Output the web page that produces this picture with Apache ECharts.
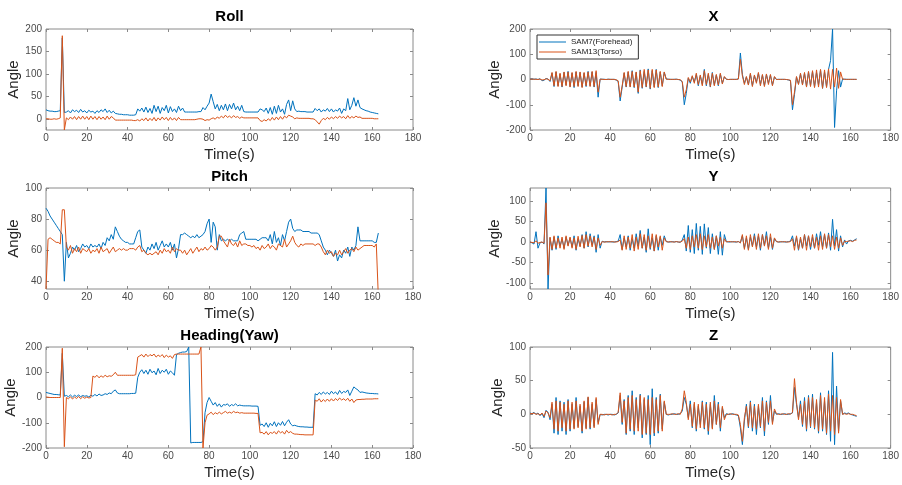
<!DOCTYPE html>
<html><head><meta charset="utf-8">
<script src="https://cdn.jsdelivr.net/npm/echarts@6/dist/echarts.min.js"></script>
<style>html,body{margin:0;padding:0;background:#fff}#c{width:902px;height:485px}</style>
</head><body><div id="c"></div>
<script>
// sample spacing of every series below (seconds), starting at t = 0
const timeStep = 1;
const xTickValues = [0,20,40,60,80,100,120,140,160,180];
const seriesNames = ['SAM7(Forehead)', 'SAM13(Torso)'];

// ---------- Roll ----------
const rollForehead = [
20,18,17,17,16,16,17,18,180,14,
15,18,13,20,16,19,14,21,15,18,
13,19,15,17,12,18,14,20,16,22,
14,19,13,17,12,11,10,10,9,9,
9,8,8,8,9,22,17,24,15,26,
14,23,12,30,16,28,12,25,18,30,
13,27,16,22,14,28,18,24,15,15,
15,15,15,15,15,16,16,25,20,28,
35,55,38,22,32,18,30,20,33,18,
32,22,35,20,28,18,30,16,15,15,
15,15,15,15,15,22,20,16,24,12,
25,10,28,12,30,15,22,10,32,42,
18,40,22,16,17,16,16,16,15,15,
15,15,23,18,22,15,20,17,23,16,
22,15,20,17,24,12,22,18,45,20,
30,47,28,42,25,22,20,18,17,15,
14,13,12,11];
const rollTorso = [
0,0,-1,-1,0,-1,0,2,185,-25,
2,-2,4,-1,5,-2,5,-1,6,-1,
5,-2,6,-1,5,-2,5,-1,4,-2,
6,-1,5,2,-3,-3,-3,-3,-3,-3,
-3,-3,-3,-4,-4,-2,-5,0,-4,2,
-5,1,-4,3,-5,2,-3,4,-2,3,
-4,3,-3,2,-4,3,-2,-2,-2,-2,
-2,-2,-2,-2,-1,0,0,-1,-4,-2,
-3,0,2,-1,4,1,6,2,8,3,
6,2,7,3,5,1,4,2,2,2,
2,2,2,2,2,-4,-6,-2,-5,0,
-4,3,-3,4,-2,5,-1,6,2,8,
6,4,0,2,1,1,1,1,1,1,
0,0,-2,-7,-12,-4,1,-2,3,-1,
4,0,5,1,6,2,5,0,7,1,
5,2,6,3,4,1,1,1,1,1,
1,0,0,0];

// ---------- Pitch ----------
const pitchForehead = [
87,85,82,80,78,76,74,72,70,40,
65,55,58,62,60,63,59,61,64,62,
63,61,64,62,63,62,64,61,65,63,
68,66,70,67,75,72,69,67,66,65,
65,64,64,64,68,72,73,62,60,58,
62,60,64,61,65,60,63,66,62,64,
62,65,60,64,55,61,70,70,71,70,
69,68,69,68,70,68,69,70,72,77,
80,65,78,75,60,70,66,67,66,67,
66,67,66,66,66,70,71,72,67,67,
67,67,67,67,66,67,68,68,68,66,
70,64,72,65,68,63,70,66,72,78,
80,74,72,73,73,73,72,72,72,72,
71,71,71,71,70,66,62,60,57,60,
58,56,60,53,57,55,60,58,62,56,
62,60,63,75,66,66,66,66,66,66,
66,65,65,71];
const pitchTorso = [
35,67,68,67,66,65,65,64,86,86,
62,60,63,58,61,59,62,58,61,60,
59,61,58,60,59,61,58,62,59,60,
61,58,60,62,59,60,61,60,61,60,
60,61,61,61,60,62,63,59,60,58,
57,58,57,58,59,57,60,58,61,59,
60,58,62,59,61,60,60,58,60,57,
59,61,58,60,62,59,61,60,62,60,
61,63,62,60,62,69,69,66,64,62,
67,64,63,65,62,66,63,64,64,63,
63,62,63,61,62,60,63,61,62,64,
61,63,62,60,64,63,62,67,62,64,
66,69,65,63,62,64,63,64,64,64,
64,64,63,64,64,62,59,57,60,58,
59,56,58,57,60,57,59,61,58,60,
61,59,62,60,61,62,63,63,63,63,
63,62,64,30];

// ---------- Heading (Yaw) ----------
const headingForehead = [
20,18,16,14,12,12,11,10,175,5,
8,3,10,2,9,4,10,3,8,5,
7,2,9,5,12,6,14,8,10,15,
12,18,15,25,30,18,15,15,15,15,
15,15,16,16,17,80,100,110,95,108,
92,112,98,105,90,115,95,108,100,112,
92,105,98,88,170,175,178,180,180,182,
200,-180,-178,-178,-178,-178,-178,-175,-60,-20,
0,-15,-30,-20,-35,-25,-38,-28,-30,-25,
-35,-28,-32,-25,-33,-30,-32,-33,-33,-33,
-33,-34,-34,-34,-35,-110,-105,-115,-100,-118,
-102,-112,-96,-115,-100,-110,-95,-112,-98,-88,
-105,-112,-110,-113,-115,-116,-116,-117,-117,-118,
-118,-118,15,10,20,12,22,14,20,12,
25,15,22,12,28,16,24,20,30,8,
25,42,35,30,20,22,20,18,17,16,
16,15,15,14];
const headingTorso = [
2,1,0,0,0,0,0,0,195,-195,
0,-5,3,-6,2,-4,4,-5,3,-3,
2,-2,0,85,80,88,78,86,80,88,
82,86,84,90,100,88,88,88,88,88,
88,88,88,88,90,160,165,170,160,172,
162,170,165,172,160,168,162,170,158,168,
160,165,155,170,172,172,172,172,172,172,
172,172,172,172,172,172,200,-200,-100,-70,
-65,-58,-68,-60,-65,-58,-65,-60,-55,-62,
-58,-62,-55,-60,-58,-62,-60,-62,-62,-62,
-62,-62,-62,-63,-63,-140,-138,-145,-135,-148,
-138,-142,-135,-145,-132,-140,-135,-145,-130,-140,
-135,-142,-145,-145,-146,-147,-147,-148,-148,-148,
-148,-148,-10,-15,-5,-18,-8,-16,-6,-15,
-5,-14,-4,-12,-2,-10,-5,-12,-3,-15,
-6,-20,-10,-8,-8,-7,-7,-6,-6,-6,
-6,-5,-5,-5];

// ---------- X ----------
const xForehead = [
2,3,1,2,0,3,-5,-3,4,2,
-8,25,-28,30,-25,22,-30,28,-22,32,
-28,25,-32,30,-25,28,-30,25,-28,32,
-25,30,-30,28,-70,2,1,1,0,1,
1,0,1,-2,-8,-85,-30,25,-30,30,
-28,35,-32,28,-55,38,-35,32,-30,42,
-38,35,-30,40,-32,30,-25,28,2,1,
1,0,1,1,0,-2,-10,-100,-55,5,
-15,12,-10,20,-25,15,-20,40,-25,20,
-30,28,-22,18,-25,22,-15,10,1,0,
0,1,0,1,2,105,20,-15,10,-20,
22,-25,15,-10,25,-20,18,-25,20,-15,
18,-22,10,0,1,0,1,0,0,-2,
-5,-120,-60,10,-18,22,-20,25,-28,30,
-25,32,-30,28,-22,38,-35,30,-30,40,
75,200,-190,-45,35,-30,2,1,1,0,
1,0,0,1];
const xTorso = [
1,2,1,1,0,2,-2,-1,3,1,
-5,28,-25,32,-28,25,-28,30,-25,30,
-30,28,-28,32,-28,30,-32,28,-25,30,
-28,32,-28,35,-50,1,1,0,0,1,
0,1,0,-1,-5,-70,-25,28,-28,32,
-30,32,-30,30,-50,35,-32,40,-28,38,
-35,40,-32,38,-30,32,-28,30,1,1,
0,1,0,1,0,-1,-8,-70,-40,8,
-10,15,-15,25,-20,18,-25,35,-20,25,
-28,25,-25,20,-22,25,-18,12,1,0,
1,0,1,0,2,80,15,-20,12,-22,
25,-28,18,-15,28,-25,20,-28,22,-20,
20,-25,12,0,0,1,0,1,0,-1,
-3,-100,-50,12,-20,25,-22,28,-30,32,
-28,35,-32,38,-30,40,-35,38,-32,42,
-38,40,-30,45,-35,30,1,1,0,1,
0,1,1,0];

// ---------- Y ----------
const yForehead = [
0,-2,-5,25,-15,-2,0,-5,131,-114,
10,-20,12,-18,15,-10,8,-15,12,-8,
10,-12,15,-20,8,-10,18,-15,25,-12,
20,-8,15,-25,18,-15,2,0,1,0,
1,0,0,1,2,18,-18,10,-12,15,
-20,8,-15,20,-10,28,-15,12,-25,32,
-18,10,-22,15,-20,12,-8,15,1,0,
0,1,0,1,0,-1,5,18,-22,40,
-25,30,-28,45,-20,38,-30,44,-15,35,
-28,20,-18,15,-30,25,-32,18,1,0,
0,1,0,0,1,-2,15,-15,10,-18,
12,-10,20,-12,15,-20,18,-8,25,-15,
12,-18,8,1,0,0,1,0,0,1,
2,15,-10,12,-20,8,-15,18,-10,15,
-18,12,-15,20,-8,25,-12,18,-15,22,
-20,55,-10,30,-22,15,-12,5,-5,3,
4,2,5,8];
const yTorso = [
0,-1,-2,3,-3,-1,0,-3,95,-80,
12,-18,15,-15,10,-15,12,-18,15,-10,
12,-15,10,-18,14,-12,16,-15,18,-10,
15,-12,12,-18,10,-8,1,0,0,1,
0,1,0,0,1,5,-20,15,-18,12,
-15,18,-22,12,-18,20,-15,18,-20,15,
-15,20,-22,18,-12,15,-20,10,1,0,
1,0,0,1,0,0,2,8,-15,12,
-18,15,-12,18,-15,20,-18,15,-12,18,
-15,12,-18,15,-10,12,-15,8,0,1,
1,0,1,0,1,-2,18,-18,15,-20,
18,-12,15,-18,20,-15,18,-10,15,-18,
20,-15,10,1,0,1,0,1,0,0,
1,8,-20,15,-18,12,-15,18,-20,15,
-12,18,-15,12,-20,15,-18,20,-15,18,
-12,15,-18,12,-15,10,-8,2,1,2,
3,1,4,5];

// ---------- Z ----------
const zForehead = [
2,1,3,0,2,-2,1,-5,6,3,
-8,15,-28,25,-30,20,-25,18,-30,22,
-25,15,-20,25,-18,12,-28,18,-20,25,
-22,15,-18,22,-12,0,-1,0,0,-1,
0,0,-1,0,2,28,-15,22,-30,28,
-25,35,-30,25,-20,30,-35,22,-30,28,
-45,38,-32,25,-28,30,-22,18,0,-1,
0,0,1,0,0,1,5,25,15,-5,
20,-20,15,-25,12,-15,20,-22,18,-30,
15,-20,28,-15,18,-25,10,-5,1,0,
0,1,0,-1,-2,-20,-45,-10,15,-20,
20,-25,15,-30,12,-20,25,-32,20,-15,
28,-12,5,0,1,0,0,1,0,0,
1,2,40,15,-5,20,-18,25,-25,28,
-20,30,-22,18,-28,32,-25,20,-30,35,
-40,92,-45,42,-25,20,0,2,1,2,
0,-1,-2,-3];
const zTorso = [
1,1,2,0,1,-1,2,-3,5,2,
-5,18,-22,20,-25,18,-20,15,-25,20,
-22,18,-22,20,-20,15,-25,20,-22,26,
-20,18,-20,25,-15,0,0,-1,0,0,
0,-1,0,0,3,32,-12,20,-28,25,
-22,28,-25,22,-25,28,-30,25,-28,22,
-30,25,-28,22,-25,28,-25,20,0,0,
0,1,0,0,1,0,8,35,18,-8,
15,-18,18,-22,15,-20,18,-20,15,-25,
18,-22,20,-15,15,-20,12,-8,0,0,
1,0,0,0,-1,-15,-40,-5,12,-18,
18,-20,12,-22,15,-18,20,-25,18,-12,
20,-15,8,1,0,0,1,0,0,1,
0,3,53,18,-8,15,-15,20,-22,25,
-18,25,-20,22,-25,28,-22,25,-28,30,
-25,28,-30,25,-28,22,0,1,0,1,
0,0,-1,-2];

// y-axis ranges and tick labels
const panelTitles = ['Roll','X','Pitch','Y','Heading(Yaw)','Z'];
const panelSeries = [
  [rollForehead, rollTorso], [xForehead, xTorso],
  [pitchForehead, pitchTorso], [yForehead, yTorso],
  [headingForehead, headingTorso], [zForehead, zTorso]
];
const yRanges = [[-25,200],[-200,200],[35,100],[-114,131],[-200,200],[-50,100]];
const yTickValues = [
  [0,50,100,150,200], [-200,-100,0,100,200], [40,60,80,100],
  [-100,-50,0,50,100], [-200,-100,0,100,200], [-50,0,50,100]
];

// ---------- layout / style ----------
const colors = ['#0072BD', '#D95319'];
const FONT = 'Liberation Sans, Arial, Helvetica, sans-serif';
const colLeft = [46, 530];
const rowTop = [29, 188, 347];
const gridW = 367, gridH = 101;
const titleY = [17, 177, 336];
const axisColor = '#8a8a8a';
const labelColor = '#4a4a4a';

const grid = [], xAxis = [], yAxis = [], series = [], graphic = [];
panelTitles.forEach((title, p) => {
  const col = p % 2, row = Math.floor(p / 2);
  grid.push({left: colLeft[col], top: rowTop[row], width: gridW, height: gridH,
    show: true, borderColor: axisColor, borderWidth: 1, backgroundColor: '#fff'});
  const xBase = {gridIndex: p, type: 'value', min: 0, max: 180, interval: 20,
    axisLine: {show: false, onZero: false}, splitLine: {show: false},
    axisTick: {inside: true, length: 3, lineStyle: {color: axisColor}}};
  xAxis.push(Object.assign({}, xBase, {position: 'bottom',
    axisLabel: {color: labelColor, fontSize: 10, fontFamily: FONT, margin: 3,
      customValues: xTickValues},
    name: 'Time(s)', nameLocation: 'middle', nameGap: 17,
    nameTextStyle: {fontSize: 15, fontFamily: FONT, color: '#262626'}}));
  xAxis.push(Object.assign({}, xBase, {position: 'top', axisLabel: {show: false}}));
  const yBase = {gridIndex: p, type: 'value', min: yRanges[p][0], max: yRanges[p][1],
    axisLine: {show: false, onZero: false}, splitLine: {show: false},
    axisTick: {inside: true, length: 3, lineStyle: {color: axisColor},
      customValues: yTickValues[p]}};
  yAxis.push(Object.assign({}, yBase, {position: 'left',
    axisLabel: {color: labelColor, fontSize: 10, fontFamily: FONT, margin: 4,
      customValues: yTickValues[p]},
    name: 'Angle', nameLocation: 'middle', nameGap: col === 0 ? 22 : 24,
    nameTextStyle: {fontSize: 15, fontFamily: FONT, color: '#262626'}}));
  yAxis.push(Object.assign({}, yBase, {position: 'right', axisLabel: {show: false}}));
  panelSeries[p].forEach((vals, s) => {
    series.push({type: 'line', name: seriesNames[s],
      xAxisIndex: p * 2, yAxisIndex: p * 2,
      data: vals.map((v, i) => [i * timeStep, v]),
      showSymbol: false, symbol: 'none', animation: false, clip: true,
      lineStyle: {color: colors[s], width: 1}, itemStyle: {color: colors[s]}});
  });
  graphic.push({type: 'text', x: colLeft[col] + gridW / 2, y: titleY[row],
    style: {text: title, fontSize: 15, fontWeight: 'bold', fontFamily: FONT,
      fill: '#000', align: 'center', verticalAlign: 'middle'}});
});

const chart = echarts.init(document.getElementById('c'), null, {renderer: 'canvas'});
chart.setOption({
  animation: false,
  grid, xAxis, yAxis, series, graphic,
  legend: {data: seriesNames, orient: 'vertical', left: 537, top: 35,
    itemWidth: 27, itemHeight: 8, itemGap: 2, padding: [3, 6, 3, 2],
    borderColor: '#333', borderWidth: 1, backgroundColor: '#fff',
    icon: 'path://M0,4 L27,4 L27,5 L0,5 Z',
    textStyle: {fontSize: 8, fontFamily: FONT, color: '#222'}, selectedMode: false}
});
</script></body></html>
